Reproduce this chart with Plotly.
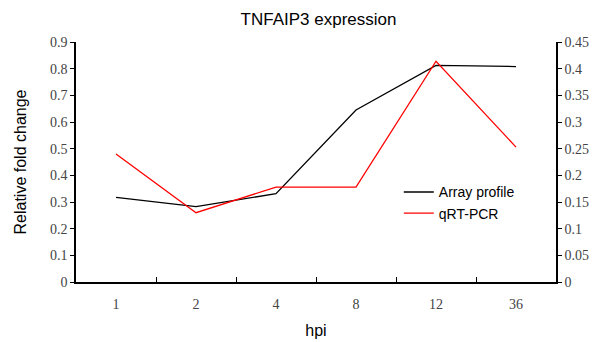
import plotly.graph_objects as go

categories = ["1", "2", "4", "8", "12", "36"]
array_profile = [0.317, 0.283, 0.331, 0.645, 0.812, 0.808]
qrt_pcr = [0.240, 0.130, 0.178, 0.178, 0.414, 0.253]

left_ticks = [0, 0.1, 0.2, 0.3, 0.4, 0.5, 0.6, 0.7, 0.8, 0.9]
right_ticks = [0, 0.05, 0.1, 0.15, 0.2, 0.25, 0.3, 0.35, 0.4, 0.45]

serif = "Liberation Serif"
tick_font = dict(family=serif, size=14, color="#444")
sans = "Liberation Sans"

fig = go.Figure()
fig.add_trace(go.Scatter(x=categories, y=array_profile, mode="lines", name="Array profile",
                         line=dict(color="black", width=1.3), yaxis="y"))
fig.add_trace(go.Scatter(x=categories, y=qrt_pcr, mode="lines", name="qRT-PCR",
                         line=dict(color="#ff0000", width=1.3), yaxis="y2"))

fig.update_layout(
    width=601, height=342,
    font=dict(family=serif, size=14, color="#444"),
    margin=dict(l=76, r=45, t=42, b=60, autoexpand=False),
    paper_bgcolor="white", plot_bgcolor="white",
    title=dict(text="TNFAIP3 expression", x=0.53, xanchor="center", y=0.945, yanchor="middle",
               font=dict(family=sans, size=17, color="black")),
    xaxis=dict(type="category", range=[-0.5, 5.5], tickson="boundaries", ticks="inside", ticklen=5,
               tickcolor="black", showline=True, linecolor="black", linewidth=1.5,
               showgrid=False, tickfont=tick_font, ticklabelstandoff=8, automargin=False,
               title=dict(text="hpi", font=dict(family=sans, size=16, color="black"), standoff=14)),
    yaxis=dict(range=[0, 0.9], tickmode="array", tickvals=left_ticks,
               ticktext=[f"{v:g}" for v in left_ticks],
               ticks="outside", ticklen=4, tickcolor="black", showline=True, linecolor="black",
               linewidth=1.5, showgrid=False, zeroline=False, tickfont=tick_font, automargin=False,
               title=dict(text="Relative fold change", font=dict(family=sans, size=16, color="black"), standoff=19)),
    yaxis2=dict(range=[0, 0.45], tickmode="array", tickvals=right_ticks,
                ticktext=[f"{v:g}" for v in right_ticks],
                overlaying="y", side="right", ticks="outside", ticklen=4, tickcolor="black",
                showline=True, linecolor="black", linewidth=1.5, showgrid=False, zeroline=False,
                tickfont=tick_font, automargin=False),
    legend=dict(x=0.6725, y=0.44, xanchor="left", yanchor="top", bgcolor="rgba(0,0,0,0)",
                font=dict(family=sans, size=14, color="black"),
                tracegroupgap=0, itemwidth=30),
    showlegend=True,
)

fig.write_html("out.html")
